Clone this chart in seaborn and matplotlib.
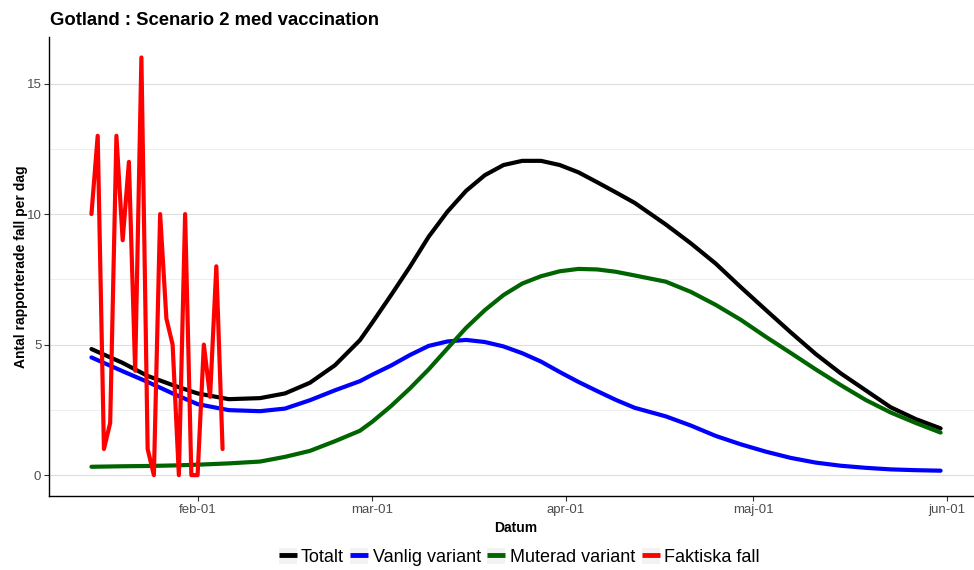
import pandas as pd
import numpy as np
import seaborn as sns
import matplotlib.pyplot as plt
from matplotlib.lines import Line2D
from matplotlib.patches import Patch
from matplotlib.legend_handler import HandlerTuple
from matplotlib.ticker import MultipleLocator

# observed daily cases, Jan 15 - Feb 5
faktiska_datum = pd.date_range("2021-01-15", "2021-02-05", freq="D")
faktiska_fall = [10, 13, 1, 2, 13, 9, 12, 4, 16, 1, 0, 10, 6, 5, 0, 10, 0, 0, 5, 3, 8, 1]

# model curves, read at days relative to Feb 1
dagar = [-17, -12, -8, -4, 0, 5, 10, 14, 18, 22, 26, 28, 31, 34, 37, 40, 43, 46, 49,
         52, 55, 58, 61, 64, 67, 70, 75, 79, 83, 87, 91, 95, 99, 103, 107, 111, 115, 119]
totalt = [4.83, 4.3, 3.8, 3.45, 3.13, 2.91, 2.95, 3.13, 3.54, 4.21, 5.17, 5.85, 6.9, 7.98,
          9.13, 10.09, 10.89, 11.49, 11.88, 12.04, 12.04, 11.88, 11.6, 11.22, 10.83, 10.43,
          9.6, 8.88, 8.1, 7.2, 6.33, 5.47, 4.64, 3.9, 3.25, 2.6, 2.15, 1.79]
vanlig = [4.51, 3.98, 3.57, 3.13, 2.72, 2.49, 2.45, 2.55, 2.87, 3.25, 3.6, 3.85, 4.2, 4.6,
          4.95, 5.12, 5.18, 5.1, 4.93, 4.67, 4.35, 3.95, 3.57, 3.22, 2.88, 2.58, 2.25, 1.9,
          1.5, 1.18, 0.9, 0.66, 0.48, 0.36, 0.28, 0.22, 0.19, 0.17]
muterad = [0.32, 0.34, 0.35, 0.37, 0.4, 0.45, 0.52, 0.7, 0.93, 1.3, 1.7, 2.05, 2.65, 3.32,
           4.05, 4.85, 5.64, 6.32, 6.9, 7.34, 7.62, 7.81, 7.9, 7.88, 7.79, 7.65, 7.41, 7.02,
           6.52, 5.95, 5.3, 4.68, 4.05, 3.45, 2.88, 2.4, 2.0, 1.63]

serier = ["Totalt", "Vanlig variant", "Muterad variant", "Faktiska fall"]
farger = ["black", "#0000FF", "#006400", "#FF0000"]

x_tick_datum = ["2021-02-01", "2021-03-01", "2021-04-01", "2021-05-01", "2021-06-01"]
x_tick_text = ["feb-01", "mar-01", "apr-01", "maj-01", "jun-01"]

modell_datum = pd.Timestamp("2021-02-01") + pd.to_timedelta(dagar, unit="D")
modell = pd.DataFrame({
    "Datum": np.tile(modell_datum, 3),
    "Fall": totalt + vanlig + muterad,
    "Serie": np.repeat(serier[:3], len(dagar)),
})
faktiska = pd.DataFrame({"Datum": faktiska_datum, "Fall": faktiska_fall})

sns.set_theme(style="white")
plt.rcParams['font.family'] = ['Liberation Sans', 'DejaVu Sans']
plt.rcParams['text.color'] = 'black'
plt.rcParams['axes.labelcolor'] = 'black'

fig = plt.figure(figsize=(9.74, 5.7), dpi=100)
# the original plot is cut off at the right edge, so the axes run past the figure
ax = fig.add_axes([0.0503, 0.1298, 0.959, 0.806])

sns.lineplot(data=modell, x="Datum", y="Fall", hue="Serie",
             palette=dict(zip(serier[:3], farger[:3])), linewidth=3, ax=ax, legend=False)
sns.lineplot(data=faktiska, x="Datum", y="Fall", color=farger[3], linewidth=3, ax=ax)

start = pd.Timestamp("2021-01-15")
slut = pd.Timestamp("2021-05-31")
pad = (slut - start) * 0.05
ax.set_xlim(start - pad, slut + pad)
ax.set_ylim(-0.8, 16.8)

ax.set_xticks(pd.to_datetime(x_tick_datum))
ax.set_xticklabels(x_tick_text)
ax.yaxis.set_major_locator(MultipleLocator(5))
ax.yaxis.set_minor_locator(MultipleLocator(2.5))
ax.grid(axis="y", which="major", color="#DEDEDE", linewidth=0.8)
ax.grid(axis="y", which="minor", color="#EBEBEB", linewidth=0.6)
ax.set_axisbelow(True)

for s in ["top", "right"]:
    ax.spines[s].set_visible(False)
for s in ["left", "bottom"]:
    ax.spines[s].set_color("black")
    ax.spines[s].set_linewidth(1.0)

ax.tick_params(axis="both", which="major", length=3.5, width=0.8, color="#333333",
               labelsize=9.5, labelcolor="#4D4D4D", pad=2, bottom=True, left=True)
ax.tick_params(axis="y", which="minor", length=0)

ax.set_xlabel("Datum", fontsize=10, fontweight="bold", labelpad=4)
ax.set_ylabel("Antal rapporterade fall per dag", fontsize=10, fontweight="bold", labelpad=-1)
fig.text(0.0513, 0.964, "Gotland : Scenario 2 med vaccination", fontsize=13.3,
         fontweight="bold", va="center", ha="left")

handles = [(Patch(facecolor="#F2F2F2", edgecolor="none"),
            Line2D([], [], linestyle="none", marker="_", markersize=13,
                   markeredgewidth=3.5, color=c)) for c in farger]
leg = fig.legend(handles, serier, loc="center", bbox_to_anchor=(0.533, 0.023),
                 ncol=4, frameon=False, fontsize=13, handlelength=1.0, handleheight=1.0,
                 handletextpad=0.25, columnspacing=0.35, numpoints=1,
                 handler_map={tuple: HandlerTuple(ndivide=1, pad=0)})

fig.savefig("out.png", dpi=100)
